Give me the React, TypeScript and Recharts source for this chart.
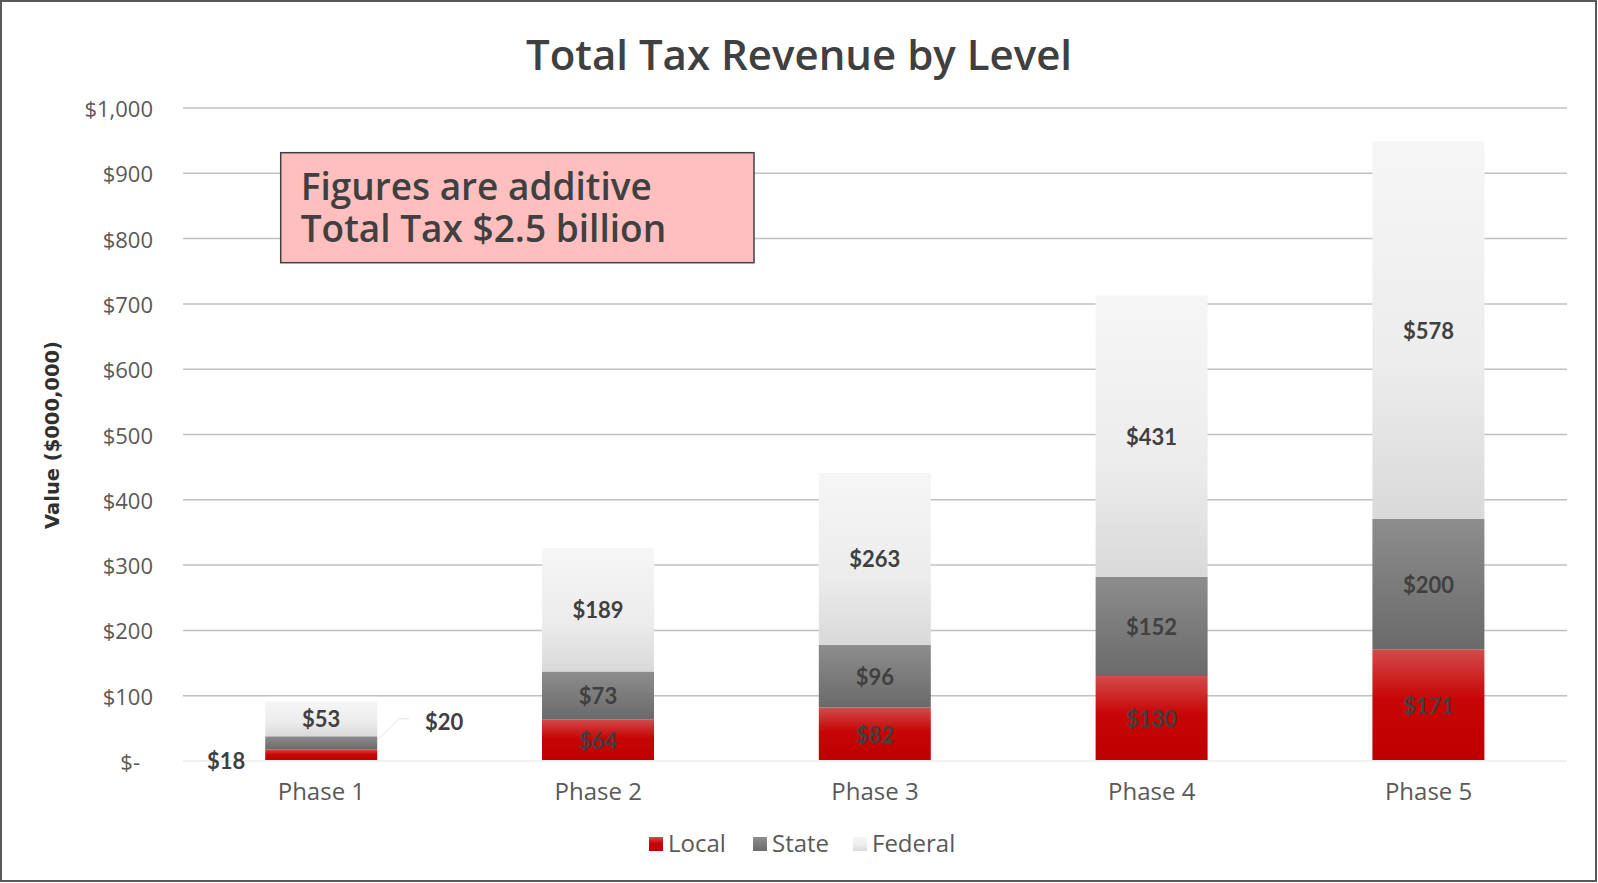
import { BarChart, Bar, XAxis, YAxis, CartesianGrid, LabelList } from "recharts";

const phases = ["Phase 1", "Phase 2", "Phase 3", "Phase 4", "Phase 5"];
const localTax = [18, 64, 82, 130, 171];
const stateTax = [20, 73, 96, 152, 200];
const federalTax = [53, 189, 263, 431, 578];
const yTicks = [0, 100, 200, 300, 400, 500, 600, 700, 800, 900, 1000];
const seriesNames = ["Local", "State", "Federal"];
const noteLines = ["Figures are additive", "Total Tax $2.5 billion"];

const W = 1598;
const H = 883;

const labelFont = { fontFamily: "Lato", fontWeight: 700, fontSize: 22, fill: "#404040" };

const money = (v: number) => (v === 0 ? "$-" : "$" + v.toLocaleString("en-US"));

function box(props: any) {
  const vb = props.viewBox && props.viewBox.width !== undefined ? props.viewBox : props;
  return { x: Number(vb.x), y: Number(vb.y), w: Number(vb.width), h: Number(vb.height) };
}

const centerLabel = (props: any) => {
  const { x, y, w, h } = box(props);
  return (
    <text x={x + w / 2} y={y + h / 2} textAnchor="middle" dominantBaseline="central" {...labelFont}>
      {"$" + props.value}
    </text>
  );
};

// small Phase 1 local value sits left of the bar, like the original
const localLabel = (props: any) => {
  const { x, y, w, h } = box(props);
  if (props.index === 0) {
    return (
      <text x={x - 39} y={y + h / 2 + 5} textAnchor="middle" dominantBaseline="central" {...labelFont}>
        {"$" + props.value}
      </text>
    );
  }
  return centerLabel(props);
};

// small Phase 1 state value goes right with a leader line
const stateLabel = (props: any) => {
  const { x, y, w, h } = box(props);
  if (props.index === 0) {
    const r = x + w;
    return (
      <g>
        <polyline
          points={`${r},${y + 4} ${r + 21.6},${y - 17.4} ${r + 31.6},${y - 17.4}`}
          fill="none"
          stroke="#e4e4e4"
          strokeWidth={1}
        />
        <text x={r + 67} y={y - 15} textAnchor="middle" dominantBaseline="central" {...labelFont}>
          {"$" + props.value}
        </text>
      </g>
    );
  }
  return centerLabel(props);
};

const YTick = (props: any) => {
  const { x, y, payload } = props;
  return (
    <text
      x={payload.value === 0 ? x - 13 : x}
      y={y}
      textAnchor="end"
      dominantBaseline="central"
      fill="#595959"
      fontFamily="Open Sans"
      fontSize={22}
    >
      {money(payload.value)}
    </text>
  );
};

const Gradients = ({ prefix }: { prefix: string }) => (
  <defs>
    <linearGradient id={prefix + "Local"} x1="0" y1="0" x2="0" y2="1">
      <stop offset="0%" stopColor="#d34b4b" />
      <stop offset="45%" stopColor="#c70505" />
      <stop offset="100%" stopColor="#bf0000" />
    </linearGradient>
    <linearGradient id={prefix + "State"} x1="0" y1="0" x2="0" y2="1">
      <stop offset="0%" stopColor="#8d8d8d" />
      <stop offset="100%" stopColor="#6a6a6a" />
    </linearGradient>
    <linearGradient id={prefix + "Federal"} x1="0" y1="0" x2="0" y2="1">
      <stop offset="0%" stopColor="#f6f6f6" />
      <stop offset="60%" stopColor="#ececec" />
      <stop offset="100%" stopColor="#d9d9d9" />
    </linearGradient>
  </defs>
);

export default function App() {
  const data = phases.map((phase, i) => ({
    phase,
    local: localTax[i],
    state: stateTax[i],
    federal: federalTax[i],
  }));

  const legendX = [649, 753, 853];

  return (
    <div style={{ position: "relative", width: W, height: H, background: "#fff" }}>
      <style>{`body{margin:0}`}</style>
      <BarChart
        width={W}
        height={H}
        data={data}
        margin={{ top: 108, right: 31, left: 83, bottom: 72 }}
        barCategoryGap="29.7%"
      >
        <Gradients prefix="g" />
        <CartesianGrid vertical={false} stroke="#c0c0c0" strokeWidth={1.5} />
        <XAxis
          dataKey="phase"
          height={50}
          tickSize={0}
          tickMargin={22}
          axisLine={{ stroke: "#f0f0f0", strokeWidth: 2 }}
          tick={{ fill: "#595959", fontSize: 24, fontFamily: "Open Sans" }}
        />
        <YAxis
          width={100}
          domain={[0, 1000]}
          ticks={yTicks}
          tickSize={0}
          tickMargin={30}
          axisLine={false}
          tick={<YTick />}
        />
        <Bar dataKey="local" name="Local" stackId="a" fill="url(#gLocal)" isAnimationActive={false}>
          <LabelList dataKey="local" content={localLabel} />
        </Bar>
        <Bar dataKey="state" name="State" stackId="a" fill="url(#gState)" isAnimationActive={false}>
          <LabelList dataKey="state" content={stateLabel} />
        </Bar>
        <Bar dataKey="federal" name="Federal" stackId="a" fill="url(#gFederal)" isAnimationActive={false}>
          <LabelList dataKey="federal" content={centerLabel} />
        </Bar>
      </BarChart>

      <svg
        width={W}
        height={H}
        style={{ position: "absolute", left: 0, top: 0, pointerEvents: "none" }}
      >
        <Gradients prefix="l" />
        <rect x={1} y={1} width={W - 3} height={H - 3} fill="none" stroke="#595959" strokeWidth={2} />
        <text
          x={W / 2}
          y={70}
          textAnchor="middle"
          fontFamily="Open Sans"
          fontWeight={600}
          fontSize={42}
          fill="#404040"
        >
          Total Tax Revenue by Level
        </text>
        <text
          transform="translate(52.5,435) rotate(-90)"
          textAnchor="middle"
          dominantBaseline="central"
          fontFamily="DejaVu Sans"
          fontWeight={700}
          fontSize={19.5}
          fill="#303030"
        >
          Value ($000,000)
        </text>

        <rect x={280.7} y={152.7} width={473.3} height={110} fill="#ffbfbf" stroke="#404040" strokeWidth={1.5} />
        {noteLines.map((line, i) => (
          <text
            key={line}
            x={300.7}
            y={199.5 + i * 42.5}
            fontFamily="Open Sans"
            fontWeight={600}
            fontSize={37}
            fill="#404040"
          >
            {line}
          </text>
        ))}

        {seriesNames.map((name, i) => (
          <g key={name}>
            <rect x={legendX[i]} y={837} width={14} height={14} fill={`url(#l${name})`} />
            <text x={legendX[i] + 19} y={852} fontFamily="Open Sans" fontSize={24} fill="#595959">
              {name}
            </text>
          </g>
        ))}
      </svg>
    </div>
  );
}
